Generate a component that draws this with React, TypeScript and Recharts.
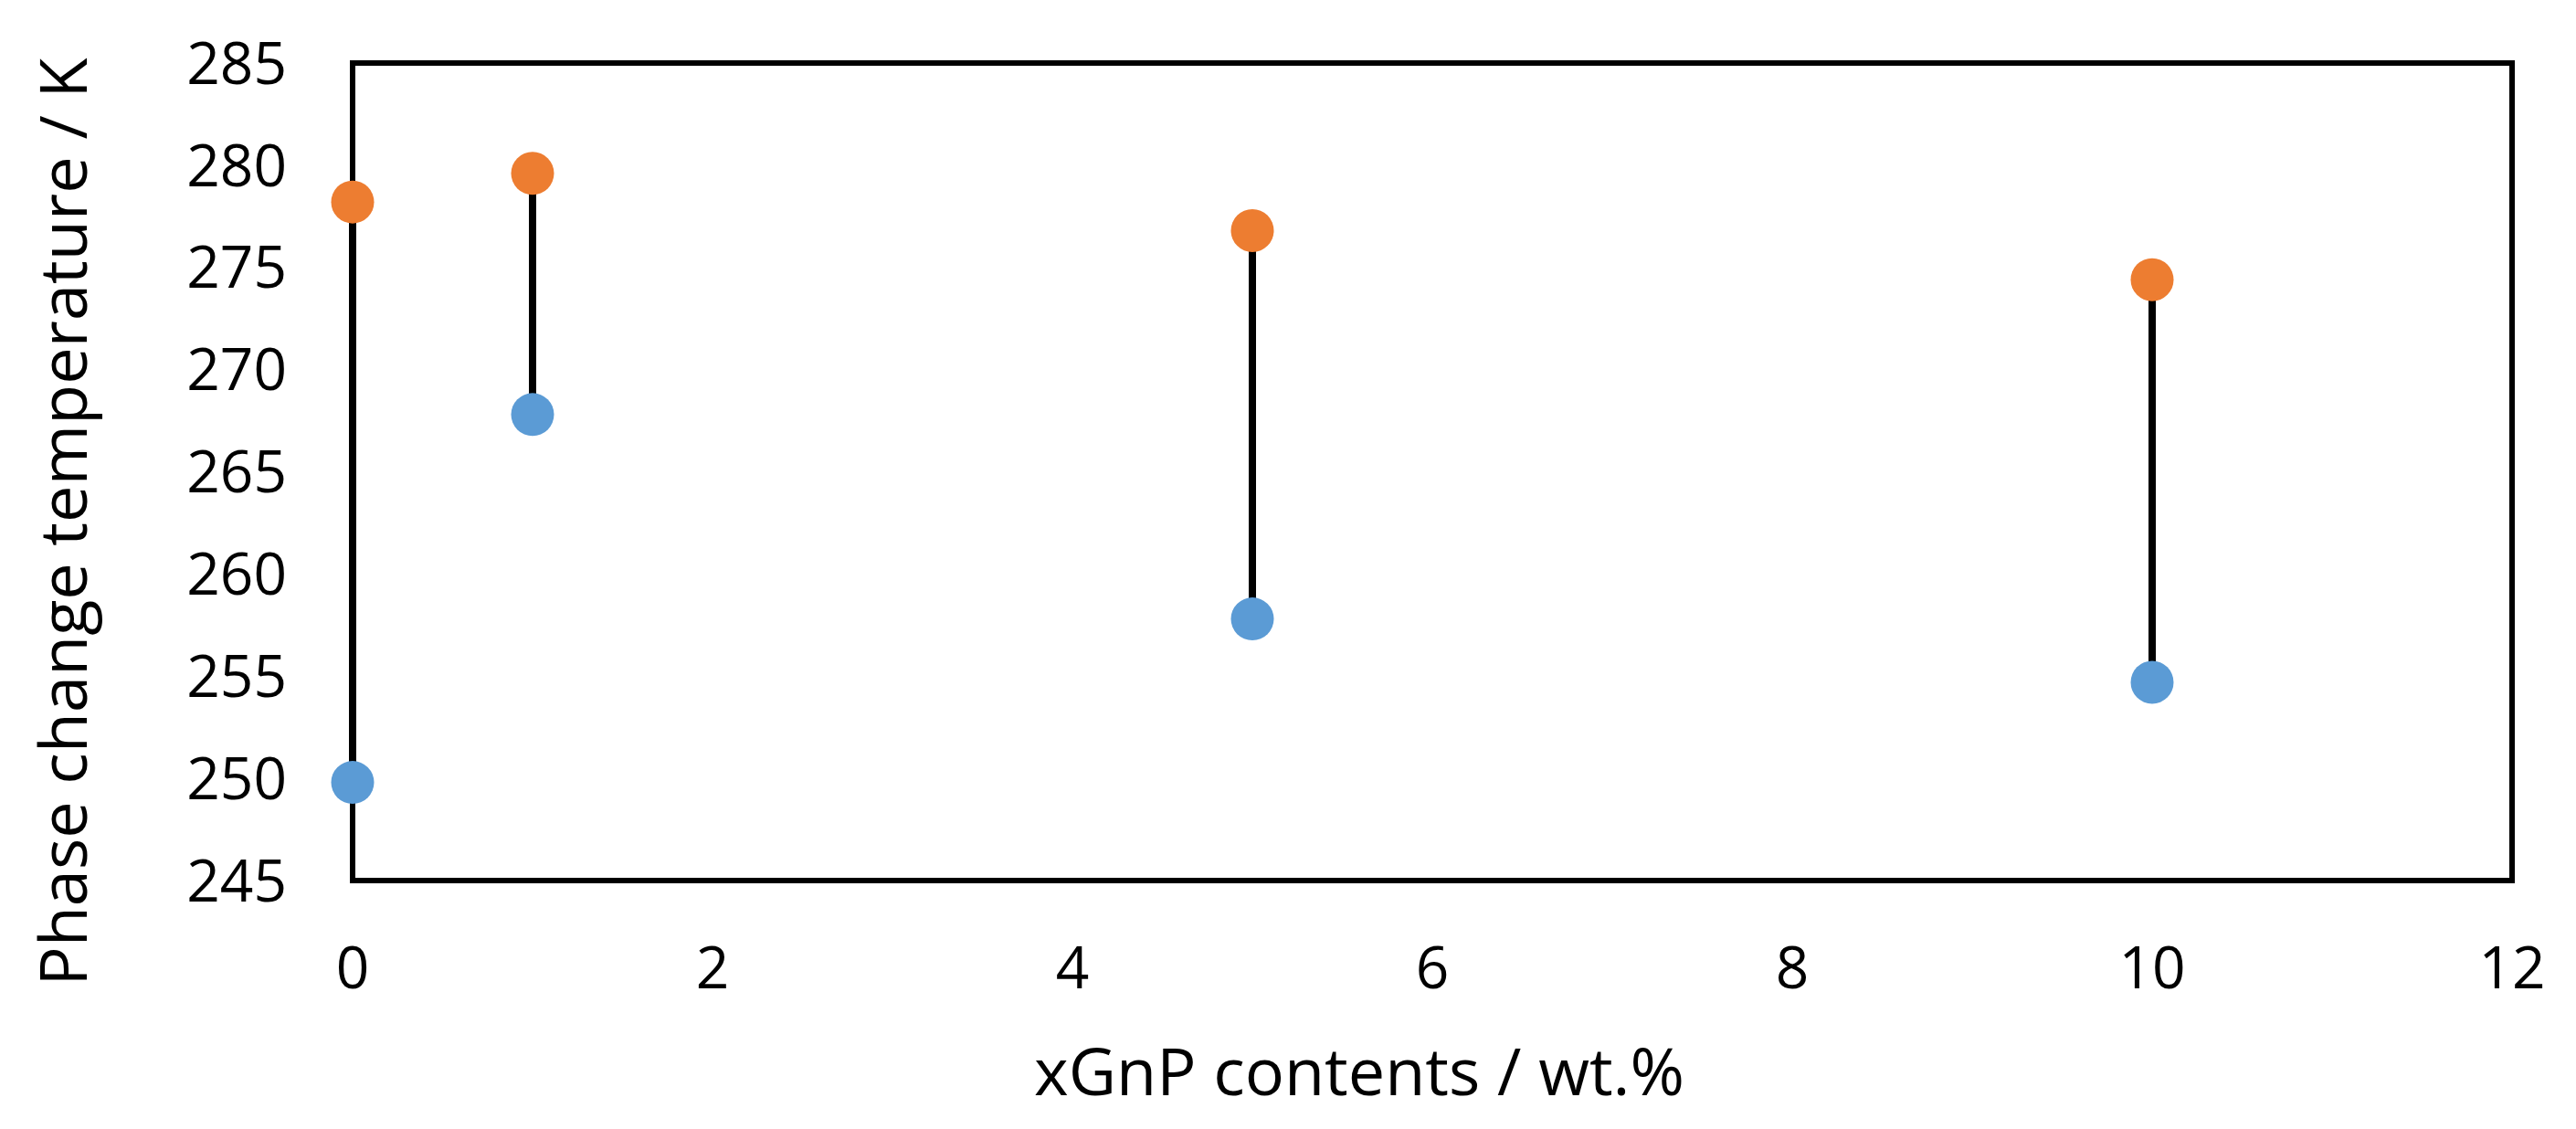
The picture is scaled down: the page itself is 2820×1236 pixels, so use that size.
import {
  ScatterChart, Scatter, XAxis, YAxis, ErrorBar, ReferenceArea, Label
} from "recharts";

// xGnP loading (wt.%) and the two phase change temperatures (K)
const xGnP = [0, 1, 5, 10];
const upperTemp = [278.2, 279.6, 276.8, 274.4];
const lowerTemp = [249.8, 267.8, 257.8, 254.7];

const xTicks = [0, 2, 4, 6, 8, 10, 12];
const yTicks = [245, 250, 255, 260, 265, 270, 275, 280, 285];

const upperPoints = xGnP.map((x, i) => ({ x, y: upperTemp[i] }));
const lowerPoints = xGnP.map((x, i) => ({
  x,
  y: lowerTemp[i],
  span: [0, upperTemp[i] - lowerTemp[i]],
}));

const font = "'Open Sans', sans-serif";

const dot = (fill: string) => (props: any) => (
  <circle cx={props.cx} cy={props.cy} r={23.5} fill={fill} />
);

export default function App() {
  return (
    <div style={{ position: "absolute", left: 0, top: 0, background: "#fff" }}>
      <ScatterChart
        width={2820}
        height={1236}
        margin={{ top: 69, right: 70, bottom: 0, left: 0 }}
        style={{ fontFamily: font }}
      >
        <XAxis
          type="number"
          dataKey="x"
          domain={[0, 12]}
          ticks={xTicks}
          axisLine={false}
          tickLine={false}
          tickSize={0}
          tickMargin={73}
          height={272}
          tick={{ fontSize: 64, fill: "#000", fontFamily: font }}
        >
          <Label
            value="xGnP contents / wt.%"
            position="center"
            dx={-80}
            dy={73}
            style={{ fontSize: 72, fill: "#000", fontFamily: font }}
          />
        </XAxis>
        <YAxis
          type="number"
          dataKey="y"
          domain={[245, 285]}
          ticks={yTicks}
          axisLine={false}
          tickLine={false}
          tickSize={0}
          tickMargin={72}
          width={386}
          tick={{ fontSize: 64, fill: "#000", fontFamily: font }}
        >
          <Label
            value="Phase change temperature / K"
            position="center"
            angle={-90}
            dx={-124}
            dy={55}
            style={{ fontSize: 72, fill: "#000", fontFamily: font }}
          />
        </YAxis>
        <ReferenceArea
          x1={0} x2={12} y1={245} y2={285}
          fill="none" stroke="#000" strokeWidth={6}
        />
        <Scatter data={lowerPoints} fill="#5B9BD5" shape={dot("#5B9BD5")} isAnimationActive={false}>
          <ErrorBar dataKey="span" direction="y" width={0} stroke="#000" strokeWidth={8} />
        </Scatter>
        <Scatter data={upperPoints} fill="#ED7D31" shape={dot("#ED7D31")} isAnimationActive={false} />
      </ScatterChart>
    </div>
  );
}
